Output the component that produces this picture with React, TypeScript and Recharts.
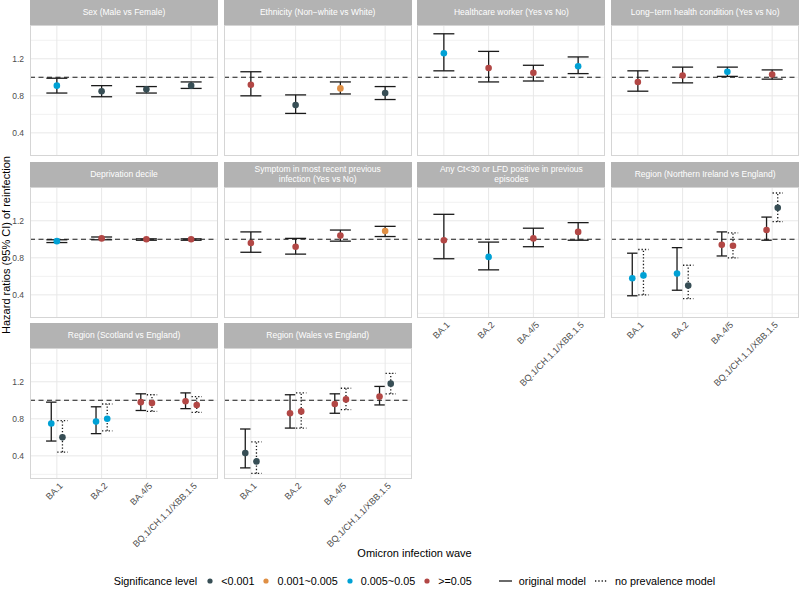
import React from 'react';
import { ComposedChart, Scatter, ErrorBar, XAxis, YAxis, CartesianGrid, ReferenceLine } from 'recharts';

const waves = ['BA.1', 'BA.2', 'BA.4/5', 'BQ.1/CH.1.1/XBB.1.5'];

const panelTitles = [
  'Sex (Male vs Female)',
  'Ethnicity (Non\u2212white vs White)',
  'Healthcare worker (Yes vs No)',
  'Long\u2212term health condition (Yes vs No)',
  'Deprivation decile',
  'Symptom in most recent previous\ninfection (Yes vs No)',
  'Any Ct<30 or LFD positive in previous\nepisodes',
  'Region (Northern Ireland vs England)',
  'Region (Scotland vs England)',
  'Region (Wales vs England)',
];

const sigLabels = ['<0.001', '0.001~0.005', '0.005~0.05', '>=0.05'];
const sigColors = ['#374E55', '#DF8F44', '#00A1D5', '#B24745'];

// original model, one row per panel, one value per wave
const hrOrig = [
  [0.91, 0.85, 0.87, 0.91],
  [0.92, 0.70, 0.88, 0.83],
  [1.26, 1.10, 1.05, 1.12],
  [0.95, 1.02, 1.06, 1.03],
  [0.98, 1.01, 1.0, 1.0],
  [0.96, 0.92, 1.04, 1.09],
  [0.99, 0.81, 1.01, 1.08],
  [0.58, 0.63, 0.94, 1.10],
  [0.75, 0.77, 0.98, 0.99],
  [0.43, 0.86, 0.96, 1.04],
];
const loOrig = [
  [0.83, 0.79, 0.83, 0.88],
  [0.80, 0.61, 0.82, 0.76],
  [1.07, 0.95, 0.96, 1.04],
  [0.85, 0.94, 1.01, 0.98],
  [0.965, 0.995, 0.99, 0.99],
  [0.86, 0.84, 0.98, 1.03],
  [0.79, 0.67, 0.92, 0.99],
  [0.39, 0.45, 0.82, 0.99],
  [0.56, 0.64, 0.89, 0.91],
  [0.27, 0.70, 0.86, 0.95],
];
const hiOrig = [
  [0.99, 0.91, 0.90, 0.95],
  [1.06, 0.81, 0.95, 0.90],
  [1.47, 1.28, 1.13, 1.22],
  [1.07, 1.11, 1.11, 1.08],
  [0.995, 1.025, 1.005, 1.005],
  [1.08, 1.01, 1.10, 1.14],
  [1.27, 0.97, 1.12, 1.18],
  [0.85, 0.91, 1.08, 1.24],
  [0.98, 0.93, 1.07, 1.08],
  [0.69, 1.06, 1.07, 1.15],
];
const sigOrig = [
  [2, 0, 0, 0],
  [3, 0, 1, 0],
  [2, 3, 3, 2],
  [3, 3, 2, 3],
  [2, 3, 3, 3],
  [3, 3, 3, 1],
  [3, 2, 3, 3],
  [2, 2, 3, 3],
  [2, 2, 3, 3],
  [0, 3, 3, 3],
];

// no prevalence model, only for the region panels
const noPrevPanels = [7, 8, 9];
const hrNoPrev = [
  [0.61, 0.50, 0.93, 1.34],
  [0.60, 0.80, 0.97, 0.95],
  [0.34, 0.88, 1.01, 1.18],
];
const loNoPrev = [
  [0.40, 0.36, 0.80, 1.19],
  [0.44, 0.67, 0.88, 0.87],
  [0.21, 0.70, 0.90, 1.07],
];
const hiNoPrev = [
  [0.89, 0.72, 1.07, 1.50],
  [0.78, 0.96, 1.06, 1.04],
  [0.55, 1.08, 1.13, 1.29],
];
const sigNoPrev = [
  [2, 0, 3, 0],
  [0, 2, 3, 3],
  [0, 3, 3, 0],
];

const yTicks = [0.4, 0.8, 1.2];
const yMinor = [0.2, 0.6, 1.0, 1.4];

const FONT = '"Liberation Sans", Arial, Helvetica, sans-serif';
const PANEL_W = 188;
const PANEL_H = 131;
const STRIP_H = 25;
const colLeft = [30, 223.7, 417.4, 611.1];
const rowTop = [0, 161.5, 323];
const Y_AXIS_W = 30;
const X_AXIS_H = 75;
const DODGE = 0.125;

function buildRows(hr: number[], lo: number[], hi: number[], sig: number[], shift: number) {
  return waves.map((w, i) => ({
    x: i + 1 + shift,
    wave: w,
    hr: hr[i],
    err: [hr[i] - lo[i], hi[i] - hr[i]],
    sig: sig[i],
  }));
}

const Dot = (p: any) => <circle cx={p.cx} cy={p.cy} r={3.3} fill={sigColors[p.payload.sig]} />;

const WaveTick = (p: any) => {
  const { x, y, payload } = p;
  return (
    <text
      x={x + 2}
      y={y}
      dy="0.71em"
      textAnchor="end"
      transform={`rotate(-45, ${x + 2}, ${y})`}
      fontSize={9}
      fill="#4D4D4D"
      fontFamily={FONT}
    >
      {waves[payload.value - 1]}
    </text>
  );
};

function Panel({ idx }: { idx: number }) {
  const col = idx % 4;
  const row = Math.floor(idx / 4);
  const showY = col === 0;
  const showX = idx >= 6;
  const npIdx = noPrevPanels.indexOf(idx);
  const dodged = npIdx >= 0;

  const orig = buildRows(hrOrig[idx], loOrig[idx], hiOrig[idx], sigOrig[idx], dodged ? -DODGE : 0);
  const noPrev = dodged
    ? buildRows(hrNoPrev[npIdx], loNoPrev[npIdx], hiNoPrev[npIdx], sigNoPrev[npIdx], DODGE)
    : null;

  const left = colLeft[col];
  const top = rowTop[row];
  const chartLeft = showY ? left - Y_AXIS_W : left;
  const chartW = PANEL_W + (showY ? Y_AXIS_W : 0);
  const chartH = PANEL_H + (showX ? X_AXIS_H : 0);

  return (
    <>
      <div
        style={{
          position: 'absolute',
          left,
          top,
          width: PANEL_W,
          height: STRIP_H,
          background: '#B3B3B3',
          color: '#FFFFFF',
          fontFamily: FONT,
          fontSize: 8.5,
          lineHeight: '10.5px',
          display: 'flex',
          alignItems: 'center',
          justifyContent: 'center',
          textAlign: 'center',
          whiteSpace: 'pre-line',
        }}
      >
        {panelTitles[idx]}
      </div>
      <div style={{ position: 'absolute', left: chartLeft, top: top + STRIP_H }}>
        <ComposedChart width={chartW} height={chartH} margin={{ top: 0, right: 0, bottom: 0, left: 0 }}>
          <CartesianGrid horizontal vertical={false} horizontalValues={yMinor} stroke="#F1F1F1" />
          <CartesianGrid horizontal vertical horizontalValues={yTicks} verticalValues={[1, 2, 3, 4]} stroke="#E8E8E8" />
          <XAxis
            type="number"
            dataKey="x"
            domain={[0.4, 4.6]}
            ticks={[1, 2, 3, 4]}
            hide={!showX}
            height={showX ? X_AXIS_H : 0}
            axisLine={false}
            tickLine={false}
            tickSize={0}
            tickMargin={3}
            interval={0}
            tick={<WaveTick />}
          />
          <YAxis
            type="number"
            dataKey="hr"
            domain={[0.15, 1.565]}
            ticks={yTicks}
            hide={!showY}
            width={showY ? Y_AXIS_W : 0}
            axisLine={false}
            tickLine={false}
            tickSize={0}
            tickMargin={6}
            tickFormatter={(v: number) => v.toFixed(1)}
            tick={{ fontSize: 8.5, fill: '#4D4D4D', fontFamily: FONT }}
          />
          <ReferenceLine y={1} stroke="#1A1A1A" strokeWidth={1.1} strokeDasharray="5 3.5" />
          <Scatter data={orig} shape={Dot} isAnimationActive={false}>
            <ErrorBar
              dataKey="err"
              direction="y"
              width={dodged ? 5.2 : 10.5}
              stroke="#1A1A1A"
              strokeWidth={1.3}
              isAnimationActive={false}
            />
          </Scatter>
          {noPrev && (
            <Scatter data={noPrev} shape={Dot} isAnimationActive={false}>
              <ErrorBar
                dataKey="err"
                direction="y"
                width={5.2}
                stroke="#1A1A1A"
                strokeWidth={1.3}
                strokeDasharray="1.3 2"
                isAnimationActive={false}
              />
            </Scatter>
          )}
        </ComposedChart>
      </div>
      <div
        style={{
          position: 'absolute',
          left,
          top: top + STRIP_H,
          width: PANEL_W,
          height: PANEL_H,
          border: '1px solid #D5D5D5',
          boxSizing: 'border-box',
          pointerEvents: 'none',
        }}
      />
    </>
  );
}

function Legend() {
  const item: React.CSSProperties = { display: 'flex', alignItems: 'center' };
  return (
    <div
      style={{
        position: 'absolute',
        left: 30,
        width: 769,
        top: 572,
        height: 18,
        display: 'flex',
        alignItems: 'center',
        justifyContent: 'center',
        fontFamily: FONT,
        fontSize: 10.8,
        color: '#000',
      }}
    >
      <span style={{ marginRight: 9 }}>Significance level</span>
      {sigLabels.map((s, i) => (
        <span key={s} style={{ ...item, marginRight: i === 3 ? 26 : 8 }}>
          <svg width={8} height={8} style={{ marginRight: 7 }}>
            <circle cx={4} cy={4} r={2.6} fill={sigColors[i]} />
          </svg>
          {s}
        </span>
      ))}
      <span style={{ ...item, marginRight: 8 }}>
        <svg width={15} height={8} style={{ marginRight: 6 }}>
          <line x1={1} y1={4} x2={14} y2={4} stroke="#1A1A1A" strokeWidth={1.3} />
        </svg>
        original model
      </span>
      <span style={item}>
        <svg width={15} height={8} style={{ marginRight: 6 }}>
          <line x1={1} y1={4} x2={14} y2={4} stroke="#1A1A1A" strokeWidth={1.3} strokeDasharray="1.3 2" />
        </svg>
        no prevalence model
      </span>
    </div>
  );
}

export default function App() {
  return (
    <div style={{ position: 'absolute', left: 0, top: 0, width: 800, height: 592, background: '#fff', overflow: 'hidden' }}>
      {panelTitles.map((t, i) => (
        <Panel key={t} idx={i} />
      ))}
      <svg width={800} height={592} style={{ position: 'absolute', left: 0, top: 0, pointerEvents: 'none' }}>
        <text
          transform="translate(6, 245) rotate(-90)"
          textAnchor="middle"
          dominantBaseline="central"
          fontSize={11}
          fontFamily={FONT}
          fill="#000"
        >
          Hazard ratios (95% CI) of reinfection
        </text>
        <text x={414.5} y={557} textAnchor="middle" fontSize={11} fontFamily={FONT} fill="#000">
          Omicron infection wave
        </text>
      </svg>
      <Legend />
    </div>
  );
}
